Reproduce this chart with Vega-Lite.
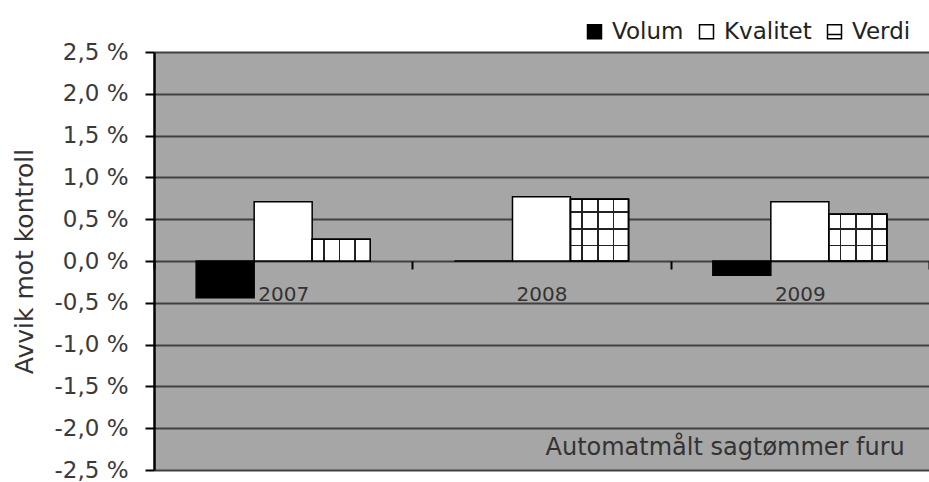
{
  "$schema": "https://vega.github.io/schema/vega-lite/v6.json",
  "width": 775,
  "height": 418,
  "autosize": {"type": "none"},
  "padding": {"left": 154, "top": 52, "right": 0, "bottom": 12},
  "background": "white",
  "config": {
    "view": {"fill": "#a6a6a6", "stroke": null},
    "font": "DejaVu Sans"
  },
  "datasets": {
    "bars": [
      {"year": "2007", "serie": "Volum", "value": -0.44},
      {"year": "2007", "serie": "Kvalitet", "value": 0.71},
      {"year": "2007", "serie": "Verdi", "value": 0.26},
      {"year": "2008", "serie": "Volum", "value": 0.0},
      {"year": "2008", "serie": "Kvalitet", "value": 0.77},
      {"year": "2008", "serie": "Verdi", "value": 0.74},
      {"year": "2009", "serie": "Volum", "value": -0.17},
      {"year": "2009", "serie": "Kvalitet", "value": 0.71},
      {"year": "2009", "serie": "Verdi", "value": 0.56}
    ],
    "note": [{"note": "Automatmålt sagtømmer furu"}]
  },
  "layer": [
    {
      "data": {"name": "bars"},
      "mark": {"type": "bar", "stroke": "black", "strokeWidth": 1.5},
      "encoding": {
        "x": {
          "field": "year", "type": "nominal",
          "scale": {"paddingInner": 0, "paddingOuter": 0},
          "axis": {
            "orient": "bottom", "offset": -209, "domain": false, "title": null,
            "labelAngle": 0, "tickBand": "extent", "tickSize": 8, "tickColor": "black",
            "tickWidth": 2, "labelFontSize": 20, "labelColor": "#333", "labelPadding": 15,
            "grid": false
          }
        },
        "xOffset": {
          "field": "serie", "type": "nominal",
          "scale": {"domain": ["Volum", "Kvalitet", "Verdi"], "paddingInner": 0, "paddingOuter": 0.727}
        },
        "y": {
          "field": "value", "type": "quantitative",
          "scale": {"domain": [-2.5, 2.5], "nice": false, "zero": false},
          "axis": {
            "values": [-2.5, -2, -1.5, -1, -0.5, 0, 0.5, 1, 1.5, 2, 2.5],
            "labelExpr": "(datum.value < 0 ? '-' : '') + replace(format(abs(datum.value), '.1f'), '.', ',') + ' %'",
            "title": "Avvik mot kontroll", "titleFontSize": 25, "titleFontWeight": "normal",
            "titleColor": "#333", "titlePadding": 16,
            "labelFontSize": 23, "labelColor": "#3a3a3a", "labelPadding": 17,
            "tickSize": 9, "tickColor": "black", "tickWidth": 2,
            "domainColor": "black", "domainWidth": 2.5,
            "grid": true, "gridColor": "#404040", "gridWidth": 2
          }
        },
        "color": {
          "field": "serie", "type": "nominal",
          "scale": {"domain": ["Volum", "Kvalitet", "Verdi"], "range": ["black", "white", "white"]},
          "legend": {
            "orient": "none", "legendX": 429, "legendY": -32, "direction": "horizontal",
            "title": null, "labelFontSize": 23, "labelColor": "#222", "symbolSize": 196,
            "labelOffset": 6, "columnPadding": 11, "symbolType": "square",
            "symbolStrokeColor": "black", "symbolStrokeWidth": 1.5,
            "encode": {
              "symbols": {
                "update": {
                  "shape": {"signal": "datum.value === 'Verdi' ? 'M-1,-1H1V1H-1Z M-1,0.4H1' : 'square'"},
                  "size": {"value": 196},
                  "stroke": {"value": "black"},
                  "strokeWidth": {"value": 1.5}
                }
              }
            }
          }
        }
      }
    },
    {
      "data": {"name": "bars"},
      "transform": [{"filter": "datum.serie === 'Verdi'"}],
      "mark": {
        "type": "bar", "stroke": "black", "strokeWidth": 1.5,
        "fill": {
          "gradient": "linear", "x1": 0, "y1": 0, "x2": 1, "y2": 0,
          "stops": [
            {"offset": 0, "color": "white"},
            {"offset": 0.185, "color": "white"},
            {"offset": 0.185, "color": "#222"},
            {"offset": 0.215, "color": "#222"},
            {"offset": 0.215, "color": "white"},
            {"offset": 0.455, "color": "white"},
            {"offset": 0.455, "color": "#222"},
            {"offset": 0.485, "color": "#222"},
            {"offset": 0.485, "color": "white"},
            {"offset": 0.725, "color": "white"},
            {"offset": 0.725, "color": "#222"},
            {"offset": 0.755, "color": "#222"},
            {"offset": 0.755, "color": "white"},
            {"offset": 1, "color": "white"}
          ]
        }
      },
      "encoding": {
        "x": {"field": "year", "type": "nominal"},
        "xOffset": {"field": "serie", "type": "nominal"},
        "y": {"field": "value", "type": "quantitative"}
      }
    },
    {
      "data": {"name": "bars"},
      "transform": [{"filter": "datum.serie === 'Verdi' && datum.year !== '2007'"}],
      "mark": {"type": "bar", "stroke": "black", "strokeWidth": 1.5},
      "encoding": {
        "x": {"field": "year", "type": "nominal"},
        "xOffset": {"field": "serie", "type": "nominal"},
        "y": {"field": "value", "type": "quantitative"},
        "fill": {
          "condition": {
            "test": "datum.year === '2008'",
            "value": {
              "gradient": "linear", "x1": 0, "y1": 0, "x2": 0, "y2": 1,
              "stops": [
                {"offset": 0, "color": "rgba(0,0,0,0)"},
                {"offset": 0.195, "color": "rgba(0,0,0,0)"},
                {"offset": 0.195, "color": "#222"},
                {"offset": 0.225, "color": "#222"},
                {"offset": 0.225, "color": "rgba(0,0,0,0)"},
                {"offset": 0.465, "color": "rgba(0,0,0,0)"},
                {"offset": 0.465, "color": "#222"},
                {"offset": 0.495, "color": "#222"},
                {"offset": 0.495, "color": "rgba(0,0,0,0)"},
                {"offset": 0.735, "color": "rgba(0,0,0,0)"},
                {"offset": 0.735, "color": "#222"},
                {"offset": 0.765, "color": "#222"},
                {"offset": 0.765, "color": "rgba(0,0,0,0)"},
                {"offset": 1, "color": "rgba(0,0,0,0)"}
              ]
            }
          },
          "value": {
            "gradient": "linear", "x1": 0, "y1": 0, "x2": 0, "y2": 1,
            "stops": [
              {"offset": 0, "color": "rgba(0,0,0,0)"},
              {"offset": 0.3, "color": "rgba(0,0,0,0)"},
              {"offset": 0.3, "color": "#222"},
              {"offset": 0.34, "color": "#222"},
              {"offset": 0.34, "color": "rgba(0,0,0,0)"},
              {"offset": 0.65, "color": "rgba(0,0,0,0)"},
              {"offset": 0.65, "color": "#222"},
              {"offset": 0.69, "color": "#222"},
              {"offset": 0.69, "color": "rgba(0,0,0,0)"},
              {"offset": 1, "color": "rgba(0,0,0,0)"}
            ]
          }
        }
      }
    },
    {
      "data": {"name": "note"},
      "mark": {
        "type": "text", "align": "right", "baseline": "alphabetic", "dx": 105, "dy": -15,
        "fontSize": 24, "font": "DejaVu Sans", "color": "#333"
      },
      "encoding": {
        "x": {"datum": "2009"},
        "y": {"datum": -2.5},
        "text": {"field": "note"}
      }
    }
  ]
}
